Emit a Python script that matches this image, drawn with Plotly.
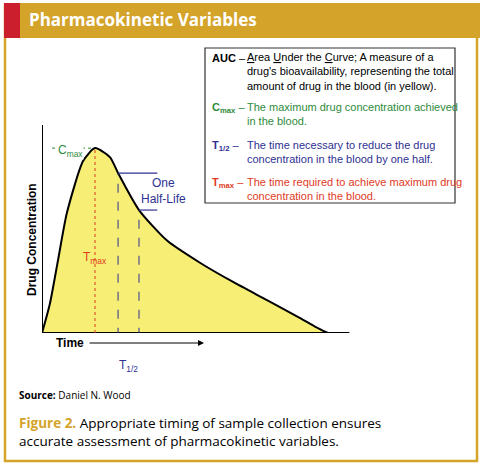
import plotly.graph_objects as go

W, H = 484, 467
time = [0, 0.30, 0.60, 0.94, 1.55, 2.0, 2.57, 2.87, 3.66, 4.72, 5.96, 7.21, 8.49, 9.74, 10.3, 10.79]
conc = [0, 0.16, 0.39, 0.65, 0.93, 1.0, 0.95, 0.865, 0.665, 0.50, 0.38, 0.276, 0.178, 0.081, 0.035, 0]
t_max, c_max = 2.0, 1.0
t_half_a, t_half_b = 2.87, 3.66
c_half_a, c_half_b = 0.865, 0.665

def X(p): return p / W
def Y(p): return 1 - p / H

BLUE = "#2e3192"; GREEN = "#2e8b3a"; RED = "#e03a1e"; GOLD = "#d4a32a"
FONT = "Liberation Sans"

fig = go.Figure()
fig.add_trace(go.Scatter(x=time, y=conc, mode="lines", line=dict(color="black", width=2, shape="spline", smoothing=0.6),
                         fill="tozeroy", fillcolor="#f7ee75", hoverinfo="skip"))

x0d, x1d = X(42), X(360)
y0d, y1d = Y(333), Y(125)
fig.update_layout(
    width=W, height=H, margin=dict(l=0, r=0, t=0, b=0), showlegend=False,
    paper_bgcolor="white", plot_bgcolor="rgba(0,0,0,0)",
    xaxis=dict(domain=[x0d, x1d], range=[0, 12], visible=False, fixedrange=True),
    yaxis=dict(domain=[y0d, y1d], range=[0, 1.125], visible=False, fixedrange=True),
    font=dict(family=FONT),
)

shapes = []
shapes.append(dict(type="rect", xref="paper", yref="paper", x0=X(5), x1=X(477), y0=Y(461), y1=Y(5), line=dict(color=GOLD, width=2.5)))
shapes.append(dict(type="rect", xref="paper", yref="paper", x0=X(4), x1=X(480), y0=Y(38), y1=Y(3), fillcolor=GOLD, line=dict(width=0)))
shapes.append(dict(type="rect", xref="paper", yref="paper", x0=X(4), x1=X(20), y0=Y(38), y1=Y(3), fillcolor="#cc1f2e", line=dict(width=0)))
shapes.append(dict(type="rect", xref="paper", yref="paper", x0=X(205), x1=X(455), y0=Y(203), y1=Y(48), line=dict(color="#333", width=1.2)))
shapes.append(dict(type="line", xref="x", yref="y", x0=0, x1=0, y0=0, y1=1.125, line=dict(color="black", width=2)))
shapes.append(dict(type="line", xref="x", yref="y", x0=0, x1=11.6, y0=0, y1=0, line=dict(color="black", width=2)))
shapes.append(dict(type="line", xref="x", yref="y", x0=0.38, x1=t_max, y0=c_max, y1=c_max, line=dict(color=GREEN, width=1, dash="dot"), layer="below"))
shapes.append(dict(type="line", xref="x", yref="y", x0=t_max, x1=t_max, y0=0, y1=c_max, line=dict(color=RED, width=1, dash="dot")))
for t, c in [(t_half_a, c_half_a), (t_half_b, c_half_b)]:
    shapes.append(dict(type="line", xref="x", yref="y", x0=t, x1=t, y0=-0.215, y1=c, line=dict(color=BLUE, width=1, dash="dash")))
    shapes.append(dict(type="line", xref="x", yref="y", x0=t, x1=4.35, y0=c, y1=c, line=dict(color=BLUE, width=1.2)))
fig.update_layout(shapes=shapes)

ann = []
def A(text, x, y, size=11, color="black", xanchor="left", **kw):
    ann.append(dict(text=text, x=X(x), y=Y(y), xref="paper", yref="paper", showarrow=False,
                    font=dict(size=size, color=color, family=kw.pop("family", FONT)), xanchor=xanchor, yanchor="middle", **kw))

A("<b>Pharmacokinetic Variables</b>", 27, 20, size=17, color="white", family="Open Sans")
A("<b>AUC</b> –", 210, 58)
A("<u>A</u>rea <u>U</u>nder the <u>C</u>urve; A measure of a<br>drug's bioavailability, representing the total<br>amount of drug in the blood (in yellow).", 245, 71, align="left")
A("<b>C<sub>max</sub></b> –", 210, 108, color=GREEN)
A("The maximum drug concentration achieved<br>in the blood.", 245, 114, color=GREEN, align="left")
A("<b>T<sub>1/2</sub></b> –", 210, 146, color=BLUE)
A("The time necessary to reduce the drug<br>concentration in the blood by one half.", 245, 152, color=BLUE, align="left")
A("<b>T<sub>max</sub></b> –", 210, 183, color=RED)
A("The time required to achieve maximum drug<br>concentration in the blood.", 245, 189, color=RED, align="left")

A("C<sub>max</sub>", 57, 151, size=12, color=GREEN, bgcolor="white", borderpad=0)
A("T<sub>max</sub>", 95, 258, size=12, color=RED, xanchor="center")
A("One<br>Half-Life", 163, 191, size=12, color=BLUE, xanchor="center", align="center")
A("T<sub>1/2</sub>", 128, 366, size=12, color=BLUE, xanchor="center")
A("<b>Time</b>", 54, 343, size=12)
ann.append(dict(text="<b>Drug Concentration</b>", x=X(32), y=Y(240), xref="paper", yref="paper", showarrow=False,
                textangle=-90, font=dict(size=12, color="black", family=FONT), xanchor="center", yanchor="middle"))
ann.append(dict(x=X(204), y=Y(343), ax=-116, ay=0, xref="paper", yref="paper", axref="pixel", ayref="pixel",
                text="", showarrow=True, arrowhead=2, arrowsize=1, arrowwidth=1.2, arrowcolor="black"))
A("<b>Source:</b> Daniel N. Wood", 17, 395, size=10, family="Open Sans")
A("<b><span style='color:%s'>Figure 2.</span></b> Appropriate timing of sample collection ensures<br>accurate assessment of pharmacokinetic variables." % GOLD,
  17, 432, size=13.5, family="Open Sans", align="left")
fig.update_layout(annotations=ann)
fig.write_html("out.html", config={"displayModeBar": False},
               post_script="document.body.style.margin='0';document.body.style.overflow='hidden';")
